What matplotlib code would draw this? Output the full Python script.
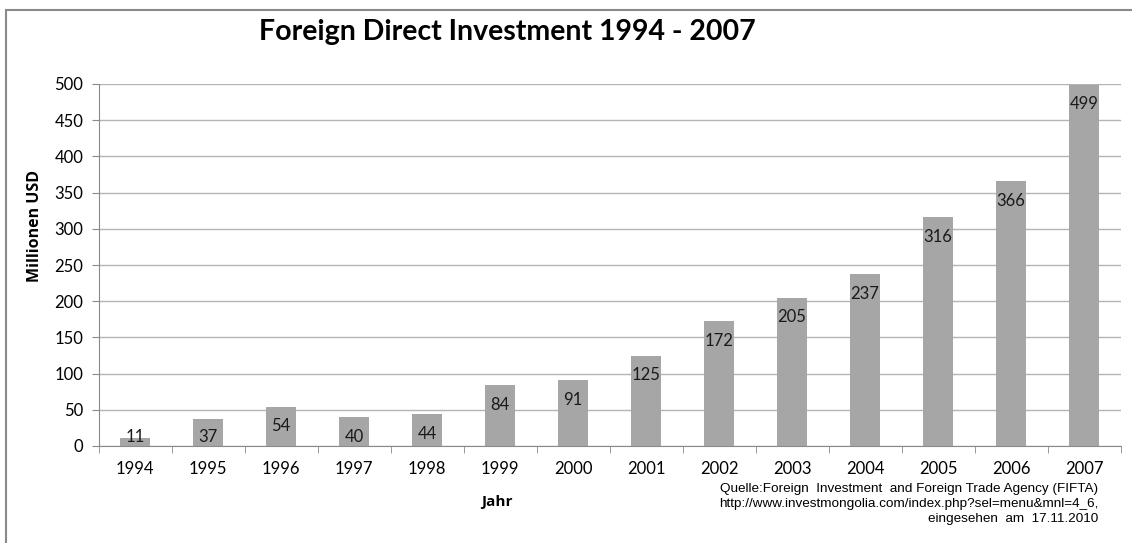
import matplotlib.pyplot as plt
from matplotlib.patches import Rectangle

# Daten: Ausländische Direktinvestitionen (Mio. USD)
jahre = ['1994', '1995', '1996', '1997', '1998', '1999', '2000',
         '2001', '2002', '2003', '2004', '2005', '2006', '2007']
werte = [11, 37, 54, 40, 44, 84, 91, 125, 172, 205, 237, 316, 366, 499]
y_ticks = [0, 50, 100, 150, 200, 250, 300, 350, 400, 450, 500]

quelle = ['Quelle:Foreign  Investment  and Foreign Trade Agency (FIFTA)',
          'http://www.investmongolia.com/index.php?sel=menu&mnl=4_6,',
          'eingesehen  am  17.11.2010']

plt.rcParams['font.family'] = ['Lato', 'DejaVu Sans']

W, H = 1132, 543
fig = plt.figure(figsize=(W / 100, H / 100), dpi=100)
ax_l, ax_r, ax_t, ax_b = 98.5, 1120.5, 84, 446
ax = fig.add_axes([ax_l / W, 1 - ax_b / H, (ax_r - ax_l) / W, (ax_b - ax_t) / H])

# Rahmen um das Diagramm
fig.patches.append(Rectangle((6 / W, -0.1), 1.1, 1 - 10 / H + 0.1,
                             transform=fig.transFigure, fill=False,
                             edgecolor='#8a8a8a', linewidth=1.5))

x = list(range(len(jahre)))
ax.bar(x, werte, width=0.4, color='#a6a6a6', zorder=2)

# Werte innen am oberen Balkenende, bei kleinen Balken nicht unter die Achse
px_per_unit = (ax_b - ax_t) / 500
for xi, v in zip(x, werte):
    top_px = v * px_per_unit
    off_px = -19.5 if top_px - 19.5 >= 9 else 9 - top_px
    ax.annotate(str(v), (xi, v), xytext=(0, off_px * 0.72),
                textcoords='offset points', ha='center', va='center',
                fontsize=12, color='#1a1a1a', zorder=3)

ax.set_xlim(-0.5, len(jahre) - 0.5)
ax.set_ylim(0, 500)
ax.set_yticks(y_ticks)
ax.yaxis.grid(True, color='#b4b4b4', linewidth=1)
ax.set_axisbelow(True)

ax.set_xticks(x)
ax.set_xticklabels(jahre, fontsize=12)
ax.set_xticks([i - 0.5 for i in range(len(jahre) + 1)], minor=True)
ax.tick_params(axis='x', which='major', length=0, pad=11)
ax.tick_params(axis='x', which='minor', length=5, color='#8a8a8a')
ax.tick_params(axis='y', length=5, color='#8a8a8a', labelsize=12, pad=6)

for s in ['top', 'right']:
    ax.spines[s].set_visible(False)
for s in ['left', 'bottom']:
    ax.spines[s].set_color('#8a8a8a')

fig.text(507 / W, 1 - 32 / H, 'Foreign Direct Investment 1994 - 2007',
         ha='center', va='center', fontsize=20.5, fontweight='bold')
fig.text(35 / W, 1 - 226 / H, 'Millionen USD', rotation=90,
         ha='center', va='center', fontsize=11.5, fontweight='bold',
         family='Open Sans')
fig.text(497 / W, 1 - 502 / H, 'Jahr', ha='center', va='center',
         fontsize=11, fontweight='bold', family='Open Sans')

for i, zeile in enumerate(quelle):
    fig.text(1098 / W, 1 - (489 + 15 * i) / H, zeile, ha='right',
             va='center', fontsize=9.7, family='Liberation Sans')

fig.savefig('out.png', dpi=100)
